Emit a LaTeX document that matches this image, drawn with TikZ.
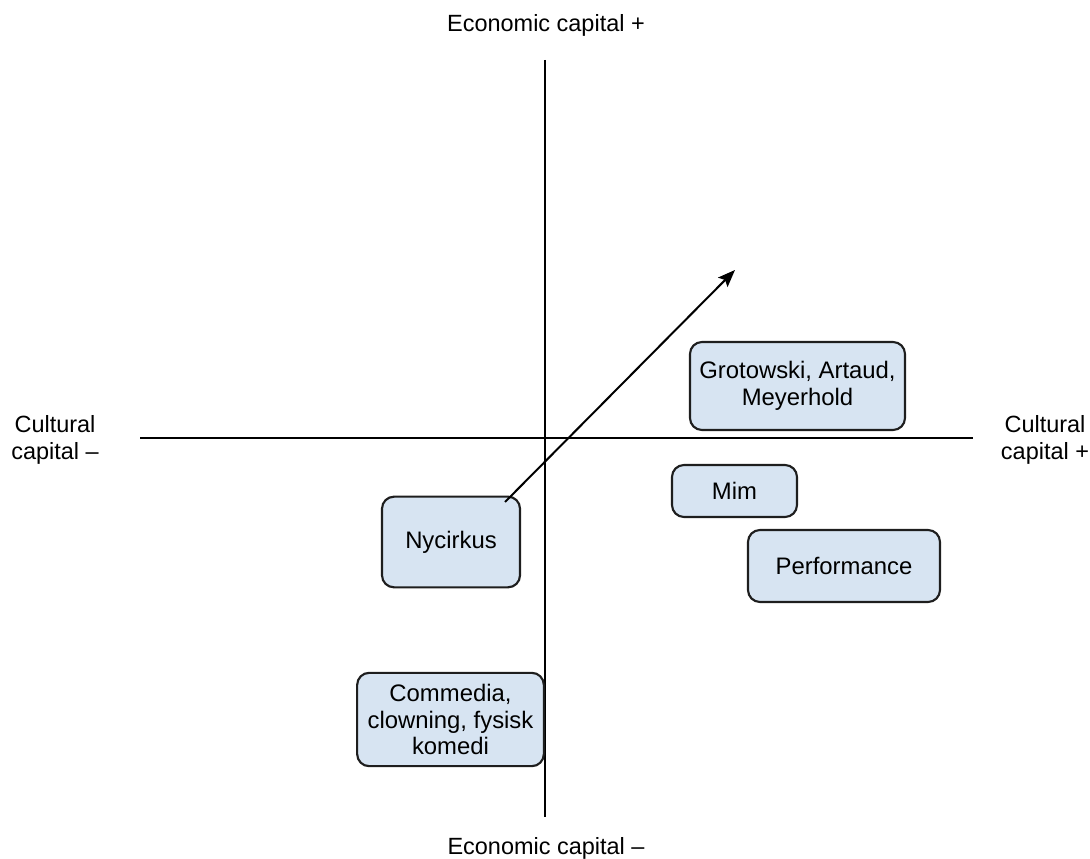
\documentclass[tikz,border=0pt]{standalone}
\usepackage{fontspec}
\setmainfont{Liberation Sans}
\usetikzlibrary{arrows.meta}
\definecolor{boxfill}{HTML}{D7E4F2}
\definecolor{boxline}{HTML}{1E1E1E}
\tikzset{
  axis/.style={line width=1.5pt, black},
  lbl/.style={align=center, font=\fontsize{17.6pt}{20.2pt}\selectfont, inner sep=0pt},
  cat/.style={draw=boxline, fill=boxfill, line width=1.6pt, rounded corners=9pt,
    align=center, font=\fontsize{17.9pt}{19.8pt}\selectfont, inner sep=0pt},
  trend/.style={line width=1.5pt, -{Stealth[length=13pt,width=10pt,inset=2.5pt]}}
}
\begin{document}
\begin{tikzpicture}[x=0.75pt,y=-0.75pt]
\useasboundingbox (0,0) rectangle (1090,859);
% axes
\coordinate (vtop) at (545,60);
\coordinate (vbot) at (545,817);
\coordinate (hleft) at (140,438);
\coordinate (hright) at (973,438);
\draw[axis] (vtop) -- (vbot);
\draw[axis] (hleft) -- (hright);
% axis labels
\node[lbl] (ecplus) at (546,25) {Economic capital +};
\node[lbl] (ecminus) at (546,848) {Economic capital –};
\node[lbl] (culminus) at (55,440) {Cultural\\capital –};
\node[lbl] (culplus) at (1045,440) {Cultural\\capital +};
% boxes
\node[cat, minimum width=161.25pt, minimum height=66pt] (grot) at (797.5,386) {Grotowski, Artaud,\\Meyerhold};
\node[cat, minimum width=93.75pt, minimum height=39pt] (mim) at (734.5,491) {Mim};
\node[cat, minimum width=144pt, minimum height=54pt] (perf) at (844,566) {Performance};
\node[cat, minimum width=103.5pt, minimum height=68pt] (nyc) at (451,542) {Nycirkus};
\node[cat, minimum width=140pt, minimum height=70pt] (comm) at (450.5,719.5) {Commedia,\\clowning, fysisk\\komedi};
% trend arrow
\coordinate (astart) at (505,502);
\coordinate (aend) at (735,270);
\draw[trend] (astart) -- (aend);
\end{tikzpicture}
\end{document}
